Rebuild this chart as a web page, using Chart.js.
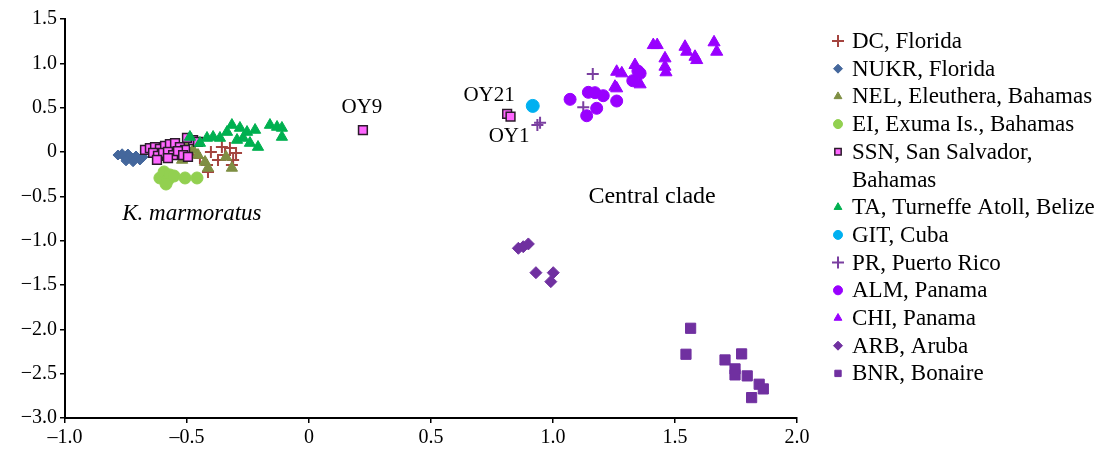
<!DOCTYPE html>
<html>
<head>
<meta charset="utf-8">
<script src="https://cdn.jsdelivr.net/npm/chart.js@4.4.0/dist/chart.umd.min.js"></script>
<style>
  html, body { margin: 0; padding: 0; background: #fff; }
  #wrap { width: 1102px; height: 455px; position: relative; }
</style>
</head>
<body>
<div id="wrap"><canvas id="chart"></canvas></div>
<script>
// series values (x = axis 1, y = axis 2)
const dcX = [-0.475, -0.447, -0.418, -0.402, -0.373, -0.357, -0.344, -0.324, -0.311, -0.299, -0.414, -0.316];
const dcY = [0.023, -0.068, -0.147, 0.0, -0.09, 0.056, -0.034, 0.045, -0.09, -0.011, -0.225, -0.147];

const nukrX = [-0.783, -0.758, -0.742, -0.725, -0.709, -0.693, -0.75, -0.721, -0.766, -0.68];
const nukrY = [-0.034, -0.056, -0.023, -0.068, -0.045, -0.09, -0.10, -0.11, -0.02, -0.056];

const nelX = [-0.52, -0.475, -0.455, -0.426, -0.414, -0.34, -0.316, -0.508];
const nelY = [-0.09, 0.023, -0.034, -0.113, -0.18, -0.056, -0.18, 0.079];

const eiX = [-0.611, -0.594, -0.578, -0.57, -0.586, -0.553, -0.508, -0.459];
const eiY = [-0.293, -0.225, -0.316, -0.259, -0.361, -0.271, -0.293, -0.293];

const ssnX = [-0.672, -0.652, -0.631, -0.611, -0.59, -0.57, -0.549, -0.529, -0.508, -0.639, -0.619,
  -0.598, -0.578, -0.557, -0.537, -0.623, -0.578, -0.516, -0.496, -0.475, -0.455, -0.5, 0.221, 0.812, 0.826];
const ssnY = [0.023, 0.045, 0.056, 0.034, 0.068, 0.09, 0.101, 0.056, 0.023, -0.011, -0.045,
  -0.011, 0.0, -0.034, 0.011, -0.09, -0.068, -0.034, -0.056, 0.135, 0.113, 0.158, 0.248, 0.43, 0.40];

const taX = [-0.488, -0.447, -0.418, -0.393, -0.365, -0.336, -0.316, -0.295, -0.283, -0.27, -0.254,
  -0.242, -0.221, -0.209, -0.16, -0.131, -0.111, -0.111];
const taY = [0.169, 0.101, 0.158, 0.169, 0.158, 0.225, 0.304, 0.135, 0.271, 0.158, 0.225,
  0.101, 0.248, 0.056, 0.304, 0.282, 0.271, 0.169];

const gitX = [0.917];
const gitY = [0.52];

const prX = [1.163, 1.124, 0.947, 0.936];
const prY = [0.879, 0.504, 0.33, 0.304];

const almX = [1.07, 1.145, 1.172, 1.206, 1.261, 1.179, 1.138, 1.327, 1.357, 1.348];
const almY = [0.594, 0.673, 0.669, 0.635, 0.575, 0.493, 0.409, 0.804, 0.887, 0.913];

const chiX = [1.411, 1.427, 1.541, 1.548, 1.582, 1.589, 1.66, 1.671, 1.459, 1.459, 1.463,
  1.261, 1.282, 1.336, 1.357, 1.254, 1.261];
const chiY = [1.206, 1.206, 1.187, 1.131, 1.074, 1.037, 1.237, 1.131, 1.056, 0.962, 0.899,
  0.905, 0.887, 0.981, 0.763, 0.736, 0.718];

const arbX = [0.858, 0.878, 0.899, 0.93, 1.001, 0.991];
const arbY = [-1.086, -1.068, -1.037, -1.361, -1.361, -1.462];

const bnrX = [1.564, 1.545, 1.705, 1.773, 1.746, 1.746, 1.796, 1.845, 1.862, 1.814];
const bnrY = [-1.988, -2.281, -2.345, -2.277, -2.446, -2.514, -2.525, -2.619, -2.672, -2.77];

const seriesLabels = ['DC, Florida', 'NUKR, Florida', 'NEL, Eleuthera, Bahamas', 'EI, Exuma Is., Bahamas',
  ['SSN, San Salvador,', 'Bahamas'], 'TA, Turneffe Atoll, Belize', 'GIT, Cuba', 'PR, Puerto Rico',
  'ALM, Panama', 'CHI, Panama', 'ARB, Aruba', 'BNR, Bonaire'];

const xTicks = [-1.0, -0.5, 0, 0.5, 1.0, 1.5, 2.0];
const yTicks = [1.5, 1.0, 0.5, 0, -0.5, -1.0, -1.5, -2.0, -2.5, -3.0];

// text notes placed in data coordinates
const notes = [
  { text: 'OY9', x: 0.217, y: 0.50, italic: false, size: 21 },
  { text: 'OY21', x: 0.738, y: 0.64, italic: false, size: 21 },
  { text: 'OY1', x: 0.82, y: 0.18, italic: false, size: 21 },
  { text: 'K. marmoratus', x: -0.48, y: -0.70, italic: true, size: 23 },
  { text: 'Central clade', x: 1.406, y: -0.50, italic: false, size: 24 }
];

const styles = [
  { style: 'cross', r: 6, fill: '#A4443F', line: '#A4443F', bw: 2 },
  { style: 'rectRot', r: 5, fill: '#44679C', line: '#44679C', bw: 1 },
  { style: 'triangle', r: 6.5, fill: '#7F8F43', line: '#7F8F43', bw: 1 },
  { style: 'circle', r: 6, fill: '#92D050', line: '#92D050', bw: 1 },
  { style: 'rect', r: 6.2, fill: '#FF66FF', line: '#2B1B2B', bw: 1.5 },
  { style: 'triangle', r: 6.5, fill: '#00B050', line: '#00B050', bw: 1 },
  { style: 'circle', r: 6.5, fill: '#00B0F0', line: '#00B0F0', bw: 1 },
  { style: 'cross', r: 6, fill: '#7A3FA0', line: '#7A3FA0', bw: 2 },
  { style: 'circle', r: 6, fill: '#9900FF', line: '#9900FF', bw: 1 },
  { style: 'triangle', r: 7, fill: '#9900FF', line: '#9900FF', bw: 1 },
  { style: 'rectRot', r: 6, fill: '#7030A0', line: '#7030A0', bw: 1 },
  { style: 'rect', r: 7.2, fill: '#7030A0', line: '#7030A0', bw: 1 }
];

const xs = [dcX, nukrX, nelX, eiX, ssnX, taX, gitX, prX, almX, chiX, arbX, bnrX];
const ys = [dcY, nukrY, nelY, eiY, ssnY, taY, gitY, prY, almY, chiY, arbY, bnrY];

const datasets = xs.map((arr, i) => ({
  label: Array.isArray(seriesLabels[i]) ? seriesLabels[i].join(' ') : seriesLabels[i],
  data: arr.map((v, j) => ({ x: v, y: ys[i][j] })),
  pointStyle: styles[i].style,
  pointRadius: styles[i].r,
  pointHoverRadius: styles[i].r,
  backgroundColor: styles[i].fill,
  borderColor: styles[i].line,
  borderWidth: styles[i].bw,
  order: -i
}));

const fmtX = v => (v === 0 ? '0' : v.toFixed(1).replace('-', '\u2013'));
const fmtY = v => (v === 0 ? '0' : v.toFixed(1).replace('-', '\u2212'));
const serif = '"Liberation Serif", "DejaVu Serif", serif';

const notesPlugin = {
  id: 'notes',
  afterDatasetsDraw(chart) {
    const { ctx, scales } = chart;
    ctx.save();
    ctx.fillStyle = '#000';
    ctx.textAlign = 'center';
    ctx.textBaseline = 'middle';
    notes.forEach(n => {
      ctx.font = (n.italic ? 'italic ' : '') + n.size + 'px ' + serif;
      ctx.fillText(n.text, scales.x.getPixelForValue(n.x), scales.y.getPixelForValue(n.y));
    });
    ctx.restore();
  }
};

const legendPlugin = {
  id: 'sideLegend',
  afterDraw(chart) {
    const ctx = chart.ctx;
    const markX = 838, textX = 852, lineH = 27.7;
    let y = 41;
    ctx.save();
    ctx.font = '23px ' + serif;
    ctx.textBaseline = 'middle';
    seriesLabels.forEach((lab, i) => {
      const s = styles[i];
      ctx.fillStyle = s.fill;
      ctx.strokeStyle = s.line;
      ctx.lineWidth = s.bw;
      Chart.helpers.drawPoint(ctx, { pointStyle: s.style, radius: s.style === 'cross' ? 6 : 4.5, borderWidth: s.bw }, markX, y);
      ctx.fillStyle = '#000';
      const lines = Array.isArray(lab) ? lab : [lab];
      lines.forEach(t => { ctx.fillText(t, textX, y + 1); y += lineH; });
    });
    ctx.restore();
  }
};

new Chart(document.getElementById('chart'), {
  type: 'scatter',
  data: { datasets },
  options: {
    responsive: true,
    maintainAspectRatio: false,
    animation: false,
    layout: { padding: { top: 19, right: 305, bottom: 0, left: 0 } },
    plugins: { legend: { display: false }, tooltip: { enabled: false } },
    scales: {
      x: {
        type: 'linear', min: -1, max: 2,
        afterBuildTicks: s => { s.ticks = xTicks.map(v => ({ value: v })); },
        afterFit: s => { s.height = 37; },
        grid: { drawOnChartArea: false, drawTicks: true, tickLength: 5, color: '#000', lineWidth: 1.5 },
        border: { display: true, color: '#000', width: 2 },
        ticks: { callback: fmtX, color: '#000', font: { family: serif, size: 20 }, padding: 3, maxRotation: 0 }
      },
      y: {
        type: 'linear', min: -3, max: 1.5,
        afterBuildTicks: s => { s.ticks = yTicks.map(v => ({ value: v })); },
        afterFit: s => { s.width = 65; },
        grid: { drawOnChartArea: false, drawTicks: true, tickLength: 5, color: '#000', lineWidth: 1.5 },
        border: { display: true, color: '#000', width: 2 },
        ticks: { callback: fmtY, color: '#000', font: { family: serif, size: 20 }, padding: 3 }
      }
    }
  },
  plugins: [notesPlugin, legendPlugin]
});
</script>
</body>
</html>
